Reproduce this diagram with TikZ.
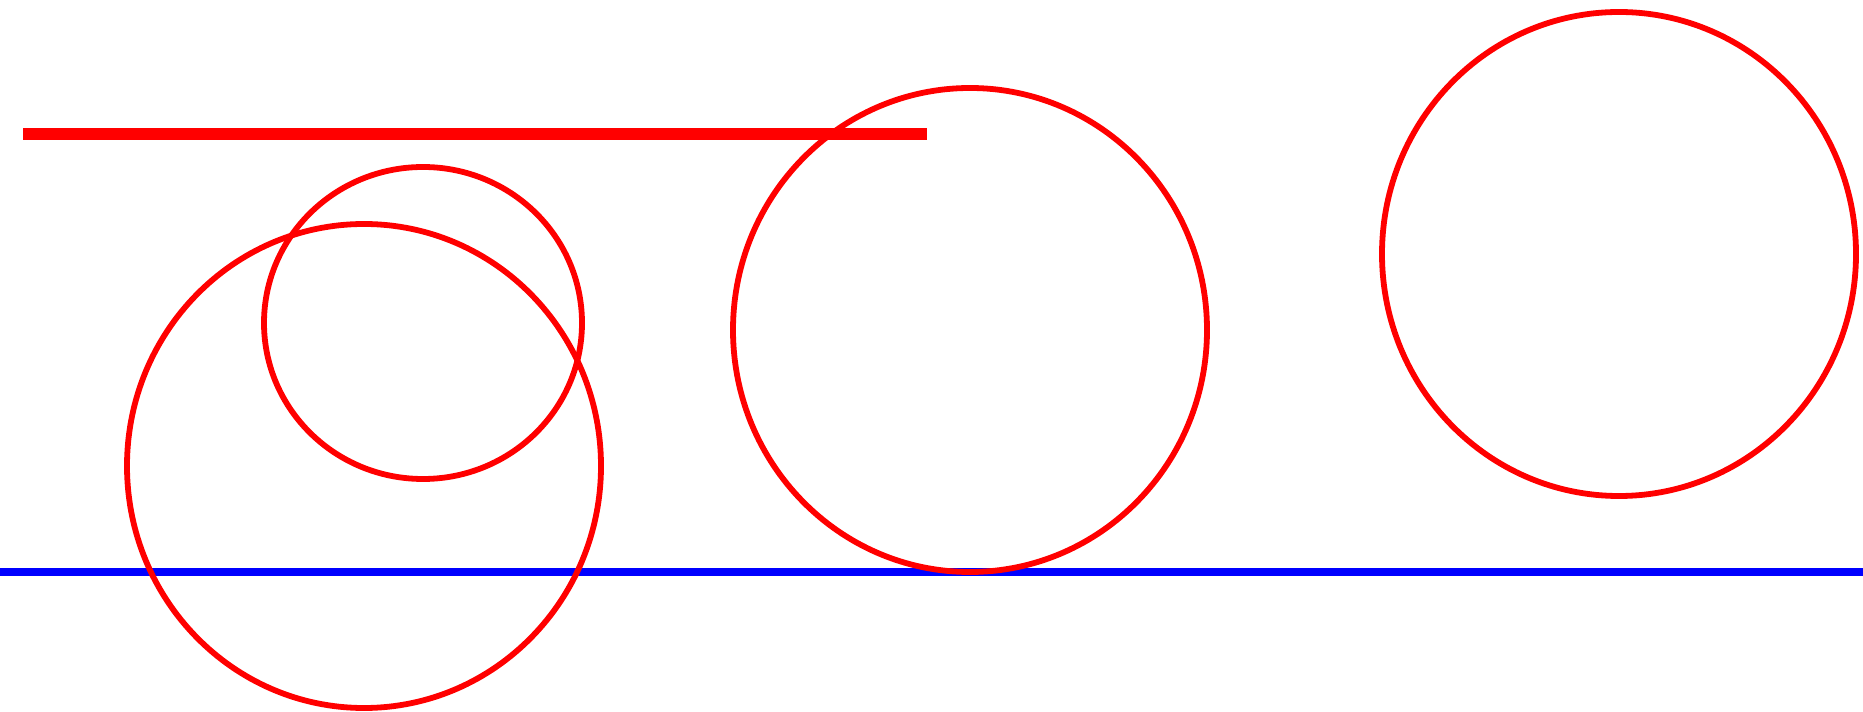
\documentclass[tikz,border=0pt]{standalone}
\begin{document}
\begin{tikzpicture}[x=0.02cm,y=-0.02cm,
  ring/.style={draw=red,line width=3.3pt},
  redbar/.style={draw=red,line width=6.4pt},
  blueline/.style={draw=blue,line width=4.2pt}]
\useasboundingbox (0,0) rectangle (1863,712);
\draw[blueline] (0,572) -- (1863,572);
\draw[redbar] (23,134) -- (927,134);
\draw[ring] (364,466) ellipse [x radius=237,y radius=242];
\draw[ring] (423,323) ellipse [x radius=159,y radius=156];
\draw[ring] (970,330) ellipse [x radius=237,y radius=242];
\draw[ring] (1619,254) ellipse [x radius=237,y radius=242];
\end{tikzpicture}
\end{document}
